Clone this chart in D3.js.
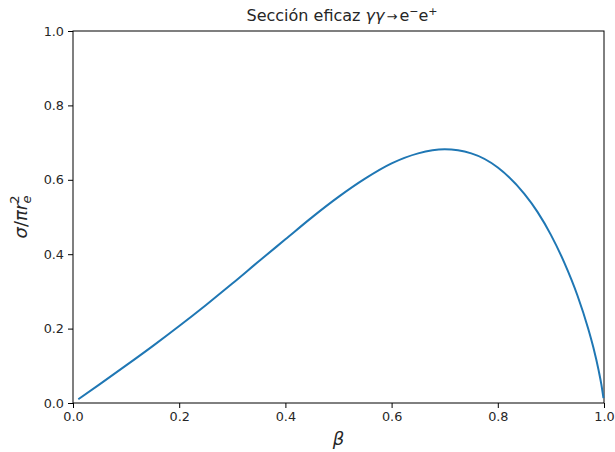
<!DOCTYPE html>
<html>
<head>
<meta charset="utf-8">
<script src="https://cdn.jsdelivr.net/npm/d3@7"></script>
<style>
  body { margin: 0; background: #fff; }
  svg text { font-family: "DejaVu Sans", sans-serif; fill: #262626; }
</style>
</head>
<body>
<div id="chart"></div>
<script>
// values
let beta = [0.01, 0.05, 0.1, 0.15, 0.2, 0.25, 0.3, 0.35, 0.4, 0.45, 0.5, 0.55, 0.6, 0.65, 0.7, 0.75, 0.8, 0.85, 0.875, 0.9, 0.925, 0.95, 0.97, 0.98, 0.99, 0.995, 0.999];
let sigma = [0.010, 0.050, 0.101, 0.153, 0.207, 0.263, 0.321, 0.381, 0.440, 0.499, 0.554, 0.603, 0.644, 0.671, 0.682, 0.671, 0.633, 0.562, 0.513, 0.452, 0.378, 0.289, 0.201, 0.149, 0.087, 0.050, 0.013];
let xTicks = [0, 0.2, 0.4, 0.6, 0.8, 1.0];
let yTicks = [0, 0.2, 0.4, 0.6, 0.8, 1.0];

let w = 615;
let h = 452;
let margin = {top: 31, right: 11, bottom: 49, left: 73};

let svg = d3.select("#chart")
            .append("svg")
            .attr("width", w)
            .attr("height", h)
;

let xScale = d3.scaleLinear().domain([0, 1]).range([margin.left, w - margin.right]);
let yScale = d3.scaleLinear().domain([0, 1]).range([h - margin.bottom, margin.top]);

let xAxis = d3.axisBottom(xScale).tickValues(xTicks).tickFormat(d3.format(".1f")).tickSize(5).tickPadding(4);
let yAxis = d3.axisLeft(yScale).tickValues(yTicks).tickFormat(d3.format(".1f")).tickSize(5).tickPadding(4);

let xAxisGroup = svg.append("g")
                    .attr("transform", "translate(0," + (h - margin.bottom) + ")")
                    .call(xAxis);
let yAxisGroup = svg.append("g")
                    .attr("transform", "translate(" + margin.left + ",0)")
                    .call(yAxis);

svg.selectAll(".domain").remove();
svg.selectAll(".tick line").attr("stroke", "#000").attr("stroke-width", 1);
svg.selectAll(".tick text").style("font-size", "12.8px").attr("fill", "#262626");

// frame
svg.append("rect")
   .attr("x", margin.left)
   .attr("y", margin.top)
   .attr("width", w - margin.left - margin.right)
   .attr("height", h - margin.top - margin.bottom)
   .attr("fill", "none")
   .attr("stroke", "#000")
   .attr("stroke-width", 1);

let points = beta.map((b, i) => [b, sigma[i]]);
let line = d3.line()
             .x(d => xScale(d[0]))
             .y(d => yScale(d[1]))
             .curve(d3.curveMonotoneX);

svg.append("path")
   .datum(points)
   .attr("d", line)
   .attr("fill", "none")
   .attr("stroke", "#1f77b4")
   .attr("stroke-width", 2);

// title
let title = svg.append("text")
               .attr("x", 342)
               .attr("y", 21)
               .attr("text-anchor", "middle")
               .style("font-size", "16px");
title.append("tspan").text("Sección eficaz ");
title.append("tspan").style("font-style", "italic").text("γγ");
title.append("tspan").attr("dx", 2).style("font-size", "13px").text("→");
title.append("tspan").attr("dx", 2).text("e");
title.append("tspan").attr("dy", -6).style("font-size", "11px").text("−");
title.append("tspan").attr("dy", 6).text("e");
title.append("tspan").attr("dy", -6).style("font-size", "11px").text("+");

// x label
svg.append("text")
   .attr("x", (margin.left + w - margin.right) / 2)
   .attr("y", 445)
   .attr("text-anchor", "middle")
   .style("font-size", "18px")
   .style("font-style", "italic")
   .text("β");

// y label
let ylab = svg.append("text")
              .attr("transform", "translate(27," + ((margin.top + h - margin.bottom) / 2) + ") rotate(-90)")
              .attr("text-anchor", "middle")
              .style("font-size", "18px");
ylab.append("tspan").style("font-style", "italic").text("σ");
ylab.append("tspan").text("/");
ylab.append("tspan").style("font-style", "italic").text("πr");
ylab.append("tspan").attr("dy", -8).attr("dx", -1).style("font-size", "13px").text("2");
ylab.append("tspan").attr("dy", 12).attr("dx", -8).style("font-size", "13px").style("font-style", "italic").text("e");
</script>
</body>
</html>
